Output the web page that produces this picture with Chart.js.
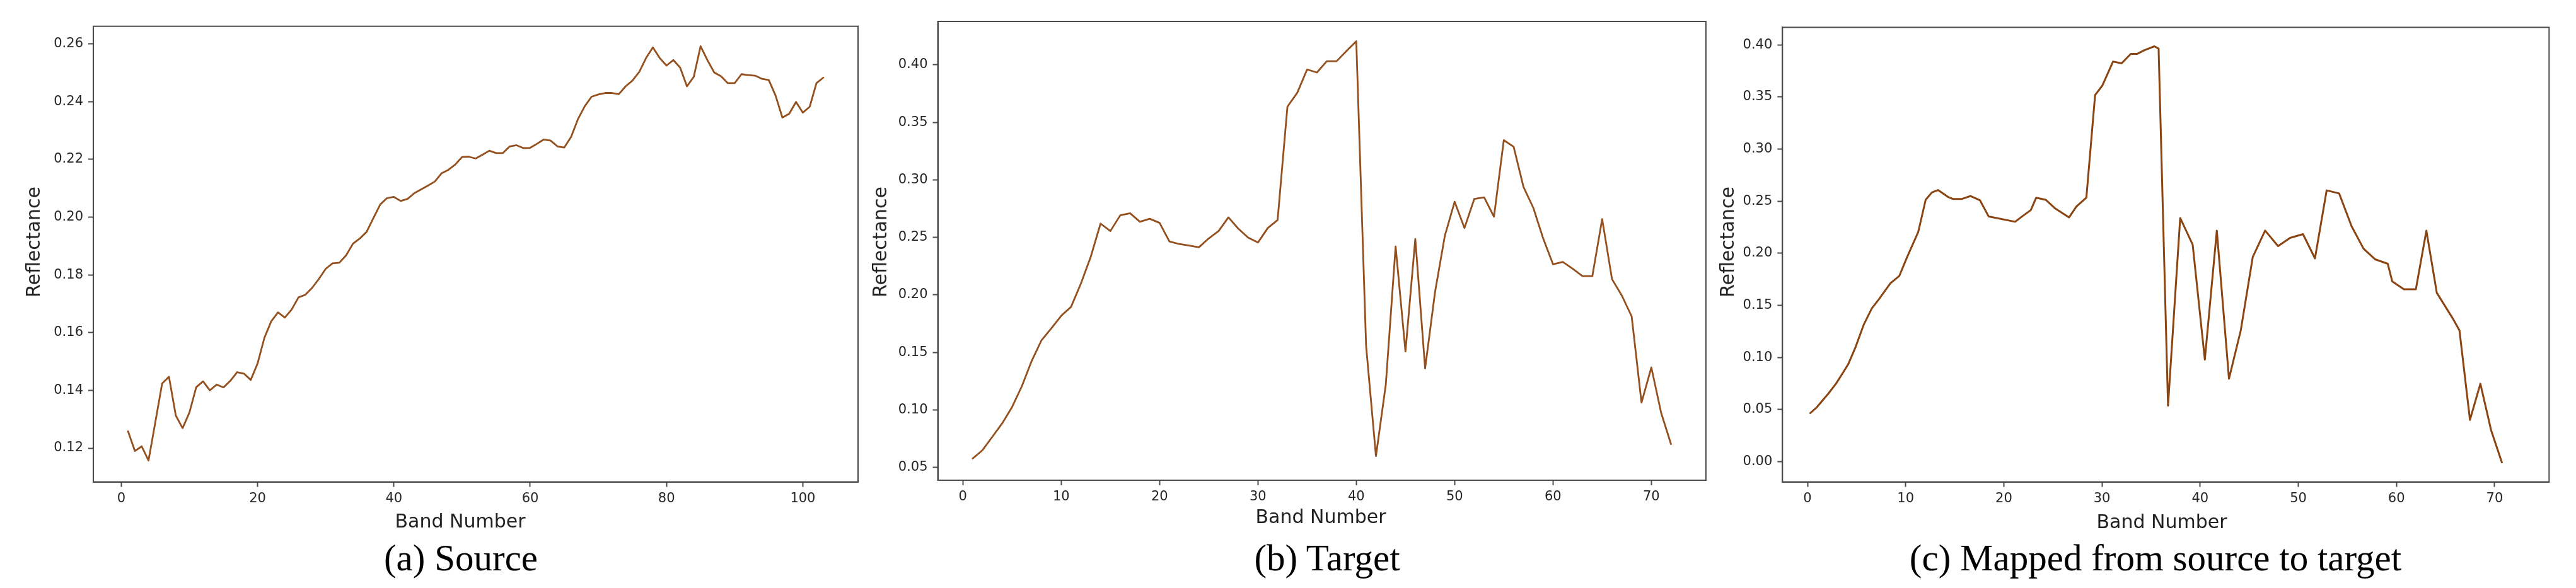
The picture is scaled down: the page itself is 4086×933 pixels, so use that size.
<!DOCTYPE html>
<html>
<head>
<meta charset="utf-8">
<script src="https://cdn.jsdelivr.net/npm/chart.js@4.4.1/dist/chart.umd.min.js"></script>
<style>
html, body { margin: 0; padding: 0; background: #fff; }
#root { position: relative; width: 4086px; height: 933px; overflow: hidden; background: #fff; }
canvas { position: absolute; top: 0; }
.xl { position: absolute; font-family: "DejaVu Sans", sans-serif; font-size: 30px; line-height: 30px; color: #222; white-space: nowrap; transform: translateX(-50%); }
.yl { position: absolute; font-family: "DejaVu Sans", sans-serif; font-size: 30px; line-height: 30px; color: #222; white-space: nowrap; transform: translate(-50%, -50%) rotate(-90deg); }
.cap { position: absolute; font-family: "Liberation Serif", "Times New Roman", serif; font-size: 59px; line-height: 59px; color: #000; white-space: nowrap; transform: translateX(-50%); }
</style>
</head>
<body>
<div id="root">
  <canvas id="cA" width="1400" height="933" style="left:0px"></canvas>
  <canvas id="cB" width="1330" height="933" style="left:1400px"></canvas>
  <canvas id="cC" width="1346" height="933" style="left:2740px"></canvas>

  <div class="yl" style="left:53px; top:384px">Reflectance</div>
  <div class="yl" style="left:1396px; top:384px">Reflectance</div>
  <div class="yl" style="left:2740px; top:384px">Reflectance</div>

  <div class="xl" style="left:730px; top:812px">Band Number</div>
  <div class="xl" style="left:2095px; top:805px">Band Number</div>
  <div class="xl" style="left:3429px; top:813px">Band Number</div>

  <div class="cap" style="left:731px; top:856px">(a) Source</div>
  <div class="cap" style="left:2105px; top:856px">(b) Target</div>
  <div class="cap" style="left:3419px; top:856px">(c) Mapped from source to target</div>
</div>
<script>
// ---------- data ----------
const sourceBands = [1,2,3,4,5,6,7,8,9,10,11,12,13,14,15,16,17,18,19,20,
  21,22,23,24,25,26,27,28,29,30,31,32,33,34,35,36,37,38,39,40,
  41,42,43,44,45,46,47,48,49,50,51,52,53,54,55,56,57,58,59,60,
  61,62,63,64,65,66,67,68,69,70,71,72,73,74,75,76,77,78,79,80,
  81,82,83,84,85,86,87,88,89,90,91,92,93,94,95,96,97,98,99,100,
  101,102,103];
const sourceReflectance = [
  0.1258, 0.1190, 0.1206, 0.1157, 0.1290, 0.1424, 0.1447, 0.1313, 0.1269, 0.1323,
  0.1411, 0.1431, 0.1400, 0.1420, 0.1410, 0.1433, 0.1463, 0.1458, 0.1436, 0.1493,
  0.1582, 0.1639, 0.1670, 0.1652, 0.1680, 0.1722, 0.1731, 0.1755, 0.1786, 0.1821,
  0.1840, 0.1842, 0.1868, 0.1908, 0.1926, 0.1949, 0.1997, 0.2044, 0.2066, 0.2070,
  0.2056, 0.2063, 0.2083, 0.2096, 0.2109, 0.2123, 0.2152, 0.2164, 0.2182, 0.2208,
  0.2209, 0.2203, 0.2216, 0.2230, 0.2222, 0.2222, 0.2245, 0.2249, 0.2239, 0.2240,
  0.2254, 0.2269, 0.2265, 0.2245, 0.2241, 0.2278, 0.2339, 0.2384, 0.2417, 0.2425,
  0.2430, 0.2430, 0.2426, 0.2453, 0.2473, 0.2503, 0.2551, 0.2588, 0.2551, 0.2525,
  0.2544, 0.2518, 0.2453, 0.2486, 0.2592, 0.2544, 0.2501, 0.2488, 0.2464, 0.2464,
  0.2495, 0.2492, 0.2490, 0.2479, 0.2475, 0.2421, 0.2345, 0.2358, 0.2399, 0.2362,
  0.2382, 0.2464, 0.2483];

const targetBands = [1,2,3,4,5,6,7,8,9,10,11,12,13,14,15,16,17,18,19,20,
  21,22,23,24,25,26,27,28,29,30,31,32,33,34,35,36,37,38,39,40,
  41,42,43,44,45,46,47,48,49,50,51,52,53,54,55,56,57,58,59,60,
  61,62,63,64,65,66,67,68,69,70,71,72];
const targetReflectance = [
  0.0577, 0.0650, 0.0766, 0.0883, 0.1024, 0.1206, 0.1426, 0.1606, 0.1710, 0.1818,
  0.1896, 0.2098, 0.2331, 0.2620, 0.2555, 0.2692, 0.2710, 0.2636, 0.2662, 0.2626,
  0.2465, 0.2442, 0.2429, 0.2414, 0.2491, 0.2555, 0.2674, 0.2576, 0.2498, 0.2455,
  0.2581, 0.2651, 0.3637, 0.3758, 0.3960, 0.3934, 0.4032, 0.4032, 0.4120, 0.4205,
  0.1555, 0.0598, 0.1218, 0.2421, 0.1508, 0.2486, 0.1360, 0.2020, 0.2512, 0.2810,
  0.2581, 0.2835, 0.2848, 0.2680, 0.3345, 0.3288, 0.2939, 0.2757, 0.2491, 0.2266,
  0.2286, 0.2227, 0.2163, 0.2163, 0.2659, 0.2137, 0.1994, 0.1813, 0.1063, 0.1369,
  0.0973, 0.0702];

const mappedBands = [
  0.28, 0.96, 2.14, 2.90, 3.60, 4.16, 4.86, 5.74, 6.55, 7.25,
  8.44, 9.35, 10.15, 11.28, 12.04, 12.67, 13.30, 14.30, 14.80, 15.74,
  16.62, 17.58, 18.46, 21.16, 21.74, 22.75, 23.30, 24.26, 25.26, 26.65,
  27.40, 28.41, 29.30, 30.05, 31.13, 32.00, 32.94, 33.57, 34.33, 35.34,
  35.77, 36.73, 37.97, 39.24, 40.48, 41.70, 42.94, 44.14, 45.36, 46.62,
  47.94, 49.16, 50.48, 51.70, 52.89, 54.16, 55.43, 56.65, 57.84, 59.11,
  59.57, 60.76, 61.98, 63.05, 64.11, 65.71, 66.42, 67.49, 68.55, 69.64,
  70.74];
const mappedReflectance = [
  0.0466, 0.0523, 0.0655, 0.0748, 0.0852, 0.0937, 0.1091, 0.1317, 0.1471, 0.1556,
  0.1711, 0.1782, 0.1964, 0.2204, 0.2514, 0.2584, 0.2607, 0.2542, 0.2522, 0.2522,
  0.2550, 0.2508, 0.2353, 0.2303, 0.2345, 0.2415, 0.2534, 0.2514, 0.2429, 0.2345,
  0.2449, 0.2534, 0.3519, 0.3612, 0.3841, 0.3824, 0.3914, 0.3914, 0.3950, 0.3987,
  0.3965, 0.0537, 0.2339, 0.2083, 0.0979, 0.2218, 0.0796, 0.1260, 0.1964, 0.2218,
  0.2069, 0.2148, 0.2184, 0.1951, 0.2604, 0.2575, 0.2260, 0.2044, 0.1942, 0.1900,
  0.1731, 0.1655, 0.1655, 0.2218, 0.1621, 0.1379, 0.1260, 0.0401, 0.0748, 0.0303,
  -0.0007];

const xTicksSource = [0, 20, 40, 60, 80, 100];
const yTicksSource = [0.12, 0.14, 0.16, 0.18, 0.20, 0.22, 0.24, 0.26];
const xTicksTarget = [0, 10, 20, 30, 40, 50, 60, 70];
const yTicksTarget = [0.05, 0.10, 0.15, 0.20, 0.25, 0.30, 0.35, 0.40];
const xTicksMapped = [0, 10, 20, 30, 40, 50, 60, 70];
const yTicksMapped = [0.00, 0.05, 0.10, 0.15, 0.20, 0.25, 0.30, 0.35, 0.40];

// ---------- styling ----------
const SPINE = '#4a4a4a';
const TICK_COLOR = '#262626';
const TICK_FONT = { family: 'DejaVu Sans', size: 21 };
const XAXIS_H = 70;

const boxPlugin = {
  id: 'box',
  afterDraw(chart) {
    const { ctx, chartArea: a } = chart;
    ctx.save();
    ctx.strokeStyle = SPINE;
    ctx.lineWidth = 2;
    ctx.strokeRect(a.left, a.top, a.right - a.left, a.bottom - a.top);
    ctx.restore();
  }
};

function toPoints(xs, ys) {
  return xs.map((x, i) => ({ x: x, y: ys[i] }));
}

function build(id, xs, ys, color, lw, cfg) {
  const gridOpts = { display: true, drawOnChartArea: false, drawTicks: true, tickLength: 8, tickWidth: 2, tickColor: SPINE };
  const borderOpts = { display: true, color: SPINE, width: 2 };
  return new Chart(document.getElementById(id), {
    type: 'line',
    data: {
      datasets: [{
        data: toPoints(xs, ys),
        borderColor: color,
        borderWidth: lw,
        borderJoinStyle: 'round',
        borderCapStyle: 'round',
        pointRadius: 0,
        pointHoverRadius: 0,
        tension: 0,
        fill: false
      }]
    },
    options: {
      responsive: false,
      animation: false,
      devicePixelRatio: 1,
      events: [],
      layout: { padding: { left: 0, top: cfg.top, right: cfg.right, bottom: cfg.bottom } },
      plugins: { legend: { display: false }, tooltip: { enabled: false }, title: { display: false } },
      scales: {
        x: {
          type: 'linear', position: 'bottom', min: cfg.xmin, max: cfg.xmax,
          afterBuildTicks: ax => { ax.ticks = cfg.xticks.map(v => ({ value: v })); },
          afterFit: s => { s.height = XAXIS_H; },
          ticks: { autoSkip: false, maxRotation: 0, minRotation: 0, padding: 6, color: TICK_COLOR, font: TICK_FONT,
                   callback: v => String(v) },
          grid: gridOpts, border: borderOpts
        },
        y: {
          type: 'linear', position: 'left', min: cfg.ymin, max: cfg.ymax,
          afterBuildTicks: ax => { ax.ticks = cfg.yticks.map(v => ({ value: v })); },
          afterFit: s => { s.width = cfg.yw; },
          ticks: { autoSkip: false, padding: 8, color: TICK_COLOR, font: TICK_FONT,
                   callback: v => Number(v).toFixed(2) },
          grid: gridOpts, border: borderOpts
        }
      }
    },
    plugins: [boxPlugin]
  });
}

build('cA', sourceBands, sourceReflectance, '#94501f', 2.8, {
  top: 41.7, right: 39, bottom: 933 - 764.6 - XAXIS_H, yw: 148,
  xmin: -4.1, xmax: 108.1, ymin: 0.1083, ymax: 0.2661,
  xticks: xTicksSource, yticks: yTicksSource
});
build('cB', targetBands, targetReflectance, '#94501f', 2.8, {
  top: 34, right: 24.1, bottom: 933 - 762 - XAXIS_H, yw: 87.5,
  xmin: -2.55, xmax: 75.55, ymin: 0.0388, ymax: 0.4378,
  xticks: xTicksTarget, yticks: yTicksTarget
});
build('cC', mappedBands, mappedReflectance, '#8b4513', 3, {
  top: 43.4, right: 42.7, bottom: 933 - 764.6 - XAXIS_H, yw: 87.3,
  xmin: -2.55, xmax: 75.55, ymin: -0.0194, ymax: 0.4169,
  xticks: xTicksMapped, yticks: yTicksMapped
});
</script>
</body>
</html>
